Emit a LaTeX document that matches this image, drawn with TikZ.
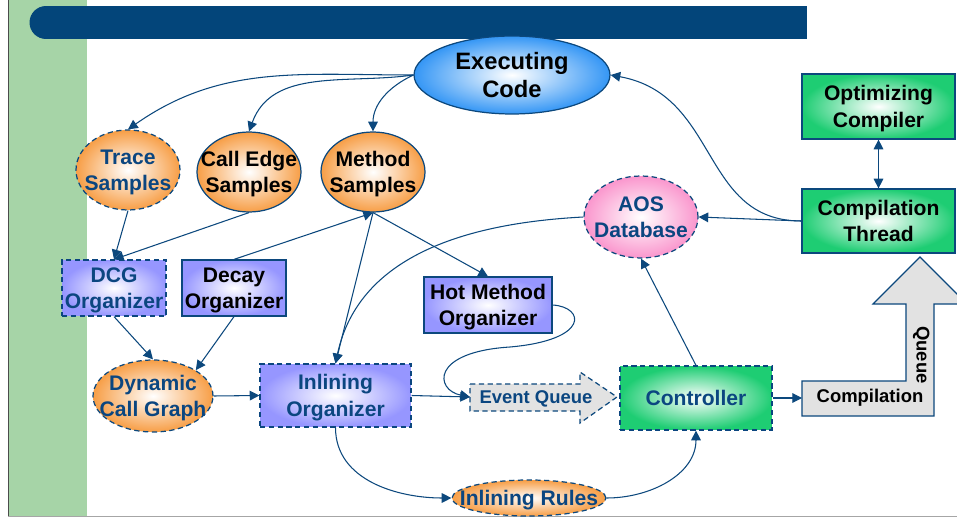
\documentclass[tikz,border=0pt]{standalone}
\usepackage{fontspec}
\setmainfont{Liberation Sans}
\usetikzlibrary{shapes.geometric,arrows.meta}

\definecolor{titlec}{RGB}{3,69,122}
\definecolor{bandc}{RGB}{166,212,167}
\definecolor{linec}{RGB}{12,72,125}
\definecolor{navy}{RGB}{11,70,128}
\definecolor{orfill}{RGB}{247,158,70}
\definecolor{blfill}{RGB}{52,150,245}
\definecolor{pufill}{RGB}{150,150,255}
\definecolor{grfill}{RGB}{30,205,115}
\definecolor{pkfill}{RGB}{250,150,205}
\definecolor{gyfill}{RGB}{226,226,226}

\tikzset{
    lbl/.style={font=\bfseries\fontsize{12}{15}\selectfont, align=center, text depth=0pt},
    oval/.style={ellipse, draw=linec, line width=0.7pt, inner color=white},
    box/.style={rectangle, draw=linec, line width=0.7pt, inner color=white, lbl, inner sep=1pt},
    broken/.style={dash pattern=on 3pt off 2pt},
    link/.style={draw=linec, line width=0.6pt, -{Triangle[length=5.5pt,width=5.5pt]}},
}

\begin{document}
\begin{tikzpicture}[x=0.02cm, y=-0.02cm]

        \clip (0, 0) rectangle (957, 517);
        \fill[white] (0, 0) rectangle (957, 517);
        \fill[bandc] (8, 0) rectangle (87, 517);
        \draw[black!70] (8, 0) -- (8, 517);
        \draw[black!35] (8, 516) -- (957, 516);
        \fill[titlec] (46, 22.5) circle [radius=0.33cm];
        \fill[titlec] (46, 6) rectangle (807, 39);

        % ovals
        \node[oval, outer color=blfill, minimum width=3.92cm, minimum height=1.56cm,
            label={[lbl, font=\bfseries\fontsize{13.5}{16}\selectfont]center:Executing\\Code}] (exec) at (512, 75) {};
        \node[oval, broken, outer color=orfill, minimum width=2.08cm, minimum height=1.6cm,
            label={[lbl, navy]center:Trace\\Samples}] (trace) at (128, 170) {};
        \node[oval, outer color=orfill, minimum width=2.08cm, minimum height=1.6cm,
            label={[lbl]center:Call Edge\\Samples}] (calledge) at (249, 172) {};
        \node[oval, outer color=orfill, minimum width=2.08cm, minimum height=1.6cm,
            label={[lbl]center:Method\\Samples}] (method) at (373, 172) {};
        \node[oval, broken, outer color=pkfill, minimum width=2.28cm, minimum height=1.64cm,
            label={[lbl, navy]center:AOS\\Database}] (aos) at (641, 217) {};
        \node[oval, broken, outer color=orfill, minimum width=2.4cm, minimum height=1.44cm,
            label={[lbl, navy]center:Dynamic\\Call Graph}] (dcgraph) at (153, 396) {};
        \node[oval, broken, outer color=orfill, minimum width=3.08cm, minimum height=0.72cm,
            label={[lbl, navy]center:Inlining Rules}] (inlrules) at (529, 498) {};

        % boxes
        \node[box, outer color=grfill, minimum width=3.06cm, minimum height=1.3cm] (optc) at (878.5, 106.5) {Optimizing\\Compiler};
        \node[box, outer color=grfill, minimum width=3.06cm, minimum height=1.28cm] (cthread) at (878.5, 221) {Compilation\\Thread};
        \node[box, broken, navy, outer color=pufill, minimum width=2.08cm, minimum height=1.12cm] (dcg) at (114, 288) {DCG\\Organizer};
        \node[box, outer color=pufill, minimum width=2.08cm, minimum height=1.12cm] (decay) at (234, 288) {Decay\\Organizer};
        \node[box, outer color=pufill, minimum width=2.56cm, minimum height=1.12cm] (hotm) at (488, 305) {Hot Method\\Organizer};
        \node[box, broken, navy, outer color=pufill, minimum width=3.02cm, minimum height=1.26cm] (inlorg) at (335.5, 395.5) {Inlining\\Organizer};
        \node[box, broken, navy, outer color=grfill, minimum width=3.04cm, minimum height=1.28cm] (ctrl) at (696, 398) {Controller};

        % queues
        \draw[linec, broken, line width=0.7pt, fill=gyfill]
            (470, 384) -- (580, 384) -- (580, 372) -- (617, 397) -- (580, 423) -- (580, 411) -- (470, 411) -- cycle;
        \node[lbl, navy, font=\bfseries\fontsize{10.5}{12}\selectfont] (evq) at (536, 397) {Event Queue};
        \coordinate (evqin) at (470, 397);

        \draw[linec, line width=0.7pt, fill=gyfill]
            (802, 381) -- (906, 381) -- (906, 304) -- (873, 304) -- (920, 257) -- (967, 304)
            -- (934, 304) -- (934, 416) -- (802, 416) -- cycle;
        \node[lbl, font=\bfseries\fontsize{10.5}{12}\selectfont] (cq) at (870, 396) {Compilation};
        \node[lbl, font=\bfseries\fontsize{10.5}{12}\selectfont, rotate=-90] (cqv) at (923, 355) {Queue};
        \coordinate (cqin) at (802, 398);

        % connectors
        \draw[link] (exec.west) to[out=180, in=35] (trace.north);
        \draw[link] (exec.west) to[out=188, in=70] (calledge.north);
        \draw[link] (exec.west) to[out=205, in=90] (method.north);
        \draw[link] (cthread.west) .. controls (700, 221) and (720, 95) .. (exec.east);
        \draw[link] (cthread.west) -- (aos.east);
        \draw[link, {Triangle[length=5.5pt,width=5.5pt]}-{Triangle[length=5.5pt,width=5.5pt]}] (optc.south) -- (cthread.north);
        \draw[link] (trace.south) -- (dcg.north);
        \draw[link] (calledge.south) -- (dcg.north);
        \draw[link] (decay.north) -- (method.south);
        \draw[link] (method.south) -- (hotm.north);
        \draw[link] (method.south) -- (inlorg.north);
        \draw[link] (aos.west) to[out=183, in=78] (inlorg.north);
        \draw[link] (dcg.south) -- (dcgraph.north);
        \draw[link] (decay.south) -- (dcgraph.north east);
        \draw[link] (dcgraph.east) -- (inlorg.west);
        \draw[link] (inlorg.east) -- (evqin);
        \draw[link] (hotm.east) .. controls (585, 307) and (590, 340) .. (510, 347)
            .. controls (430, 352) and (435, 390) .. (evqin);
        \draw[link] (ctrl.north) -- (aos.south);
        \draw[link] (ctrl.east) -- (cqin);
        \draw[link] (inlorg.south) to[out=-90, in=180] (inlrules.west);
        \draw[link] (inlrules.east) to[out=0, in=-90] (ctrl.south);

\end{tikzpicture}
\end{document}
